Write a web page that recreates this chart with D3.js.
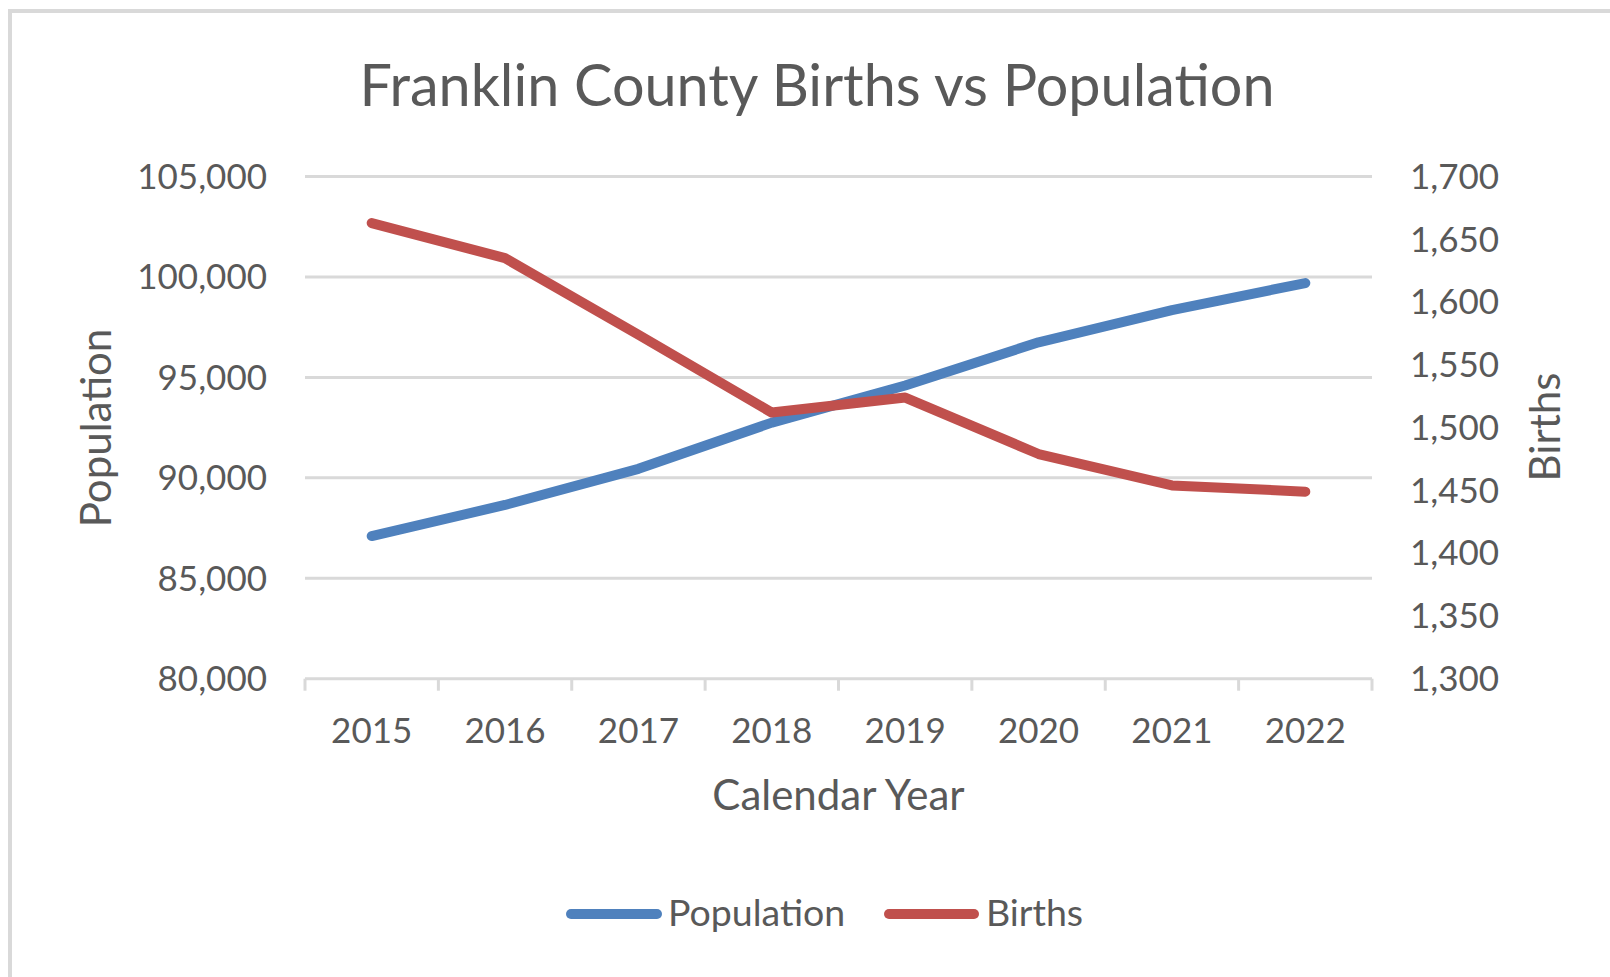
<!DOCTYPE html>
<html>
<head>
<meta charset="utf-8">
<script src="https://cdn.jsdelivr.net/npm/d3@7"></script>
<style>
  html, body { margin: 0; padding: 0; background: #ffffff; }
  svg { display: block; }
  text { font-family: Lato, "Open Sans", sans-serif; fill: #595959; }
</style>
</head>
<body>
<svg id="chart" width="1610" height="977"></svg>
<script>
// ---- data ----
const years = ["2015", "2016", "2017", "2018", "2019", "2020", "2021", "2022"];
const population = [87100, 88650, 90450, 92750, 94600, 96750, 98350, 99700];
const births = [1663, 1635, 1574, 1512, 1524, 1479, 1454, 1449];
const popTicks = [80000, 85000, 90000, 95000, 100000, 105000];
const birthTicks = [1300, 1350, 1400, 1450, 1500, 1550, 1600, 1650, 1700];
const titleText = "Franklin County Births vs Population";
const seriesNames = ["Population", "Births"];

// ---- layout ----
const W = 1610, H = 977;
const plot = { left: 305, right: 1372, top: 176.6, bottom: 678.7 };
const colors = { pop: "#4f81bd", births: "#c0504d", grid: "#d9d9d9" };

const svg = d3.select("#chart");
svg.append("rect").attr("width", W).attr("height", H).attr("fill", "#fff");

// chart border (top and left visible)
svg.append("line").attr("x1", 8).attr("x2", W).attr("y1", 11).attr("y2", 11)
  .attr("stroke", colors.grid).attr("stroke-width", 4);
svg.append("line").attr("x1", 10).attr("x2", 10).attr("y1", 9).attr("y2", H)
  .attr("stroke", colors.grid).attr("stroke-width", 4);

const x = d3.scaleBand().domain(years).range([plot.left, plot.right]).padding(0);
const yPop = d3.scaleLinear().domain([80000, 105000]).range([plot.bottom, plot.top]);
const yBirths = d3.scaleLinear().domain([1300, 1700]).range([plot.bottom, plot.top]);
const fmt = d3.format(",");

// gridlines (left axis)
svg.append("g").selectAll("line").data(popTicks.filter(d => d !== 80000)).join("line")
  .attr("x1", plot.left).attr("x2", plot.right)
  .attr("y1", d => yPop(d)).attr("y2", d => yPop(d))
  .attr("stroke", colors.grid).attr("stroke-width", 3);

// x axis line and ticks
const xAxis = svg.append("g");
xAxis.append("line").attr("x1", plot.left).attr("x2", plot.right)
  .attr("y1", plot.bottom).attr("y2", plot.bottom)
  .attr("stroke", colors.grid).attr("stroke-width", 3);
const boundaries = years.map(d => x(d)).concat([x(years[years.length - 1]) + x.bandwidth()]);
xAxis.selectAll("line.tick").data(boundaries).join("line").attr("class", "tick")
  .attr("x1", d => d).attr("x2", d => d)
  .attr("y1", plot.bottom).attr("y2", plot.bottom + 12)
  .attr("stroke", colors.grid).attr("stroke-width", 3);
xAxis.selectAll("text").data(years).join("text")
  .attr("x", d => x(d) + x.bandwidth() / 2).attr("y", 743)
  .attr("text-anchor", "middle").attr("font-size", 35).text(d => d);

// left tick labels
svg.append("g").selectAll("text").data(popTicks).join("text")
  .attr("x", 267).attr("y", d => yPop(d)).attr("dy", "0.35em")
  .attr("text-anchor", "end").attr("font-size", 35).text(d => fmt(d));

// right tick labels
svg.append("g").selectAll("text").data(birthTicks).join("text")
  .attr("x", 1410).attr("y", d => yBirths(d)).attr("dy", "0.35em")
  .attr("text-anchor", "start").attr("font-size", 35).text(d => fmt(d));

// title
svg.append("text").attr("x", 817).attr("y", 106).attr("text-anchor", "middle")
  .attr("font-size", 57.5).text(titleText);

// axis titles
svg.append("text").attr("transform", "translate(111,428) rotate(-90)")
  .attr("text-anchor", "middle").attr("font-size", 42).text("Population");
svg.append("text").attr("transform", "translate(1560,427) rotate(-90)")
  .attr("text-anchor", "middle").attr("font-size", 42).text("Births");
svg.append("text").attr("x", (plot.left + plot.right) / 2).attr("y", 810)
  .attr("text-anchor", "middle").attr("font-size", 42).text("Calendar Year");

// lines
const cx = d => x(d) + x.bandwidth() / 2;
const popLine = d3.line().x((d, i) => cx(years[i])).y(d => yPop(d));
const birthLine = d3.line().x((d, i) => cx(years[i])).y(d => yBirths(d));
svg.append("path").datum(population).attr("d", popLine)
  .attr("fill", "none").attr("stroke", colors.pop).attr("stroke-width", 10)
  .attr("stroke-linecap", "round").attr("stroke-linejoin", "round");
svg.append("path").datum(births).attr("d", birthLine)
  .attr("fill", "none").attr("stroke", colors.births).attr("stroke-width", 10)
  .attr("stroke-linecap", "round").attr("stroke-linejoin", "round");

// legend
const legend = [
  { name: seriesNames[0], color: colors.pop, x0: 571, x1: 657, tx: 668 },
  { name: seriesNames[1], color: colors.births, x0: 889, x1: 974, tx: 986 }
];
const lg = svg.append("g").selectAll("g").data(legend).join("g");
lg.append("line").attr("x1", d => d.x0).attr("x2", d => d.x1).attr("y1", 914).attr("y2", 914)
  .attr("stroke", d => d.color).attr("stroke-width", 10).attr("stroke-linecap", "round");
lg.append("text").attr("x", d => d.tx).attr("y", 926).attr("font-size", 37.5).text(d => d.name);
</script>
</body>
</html>
